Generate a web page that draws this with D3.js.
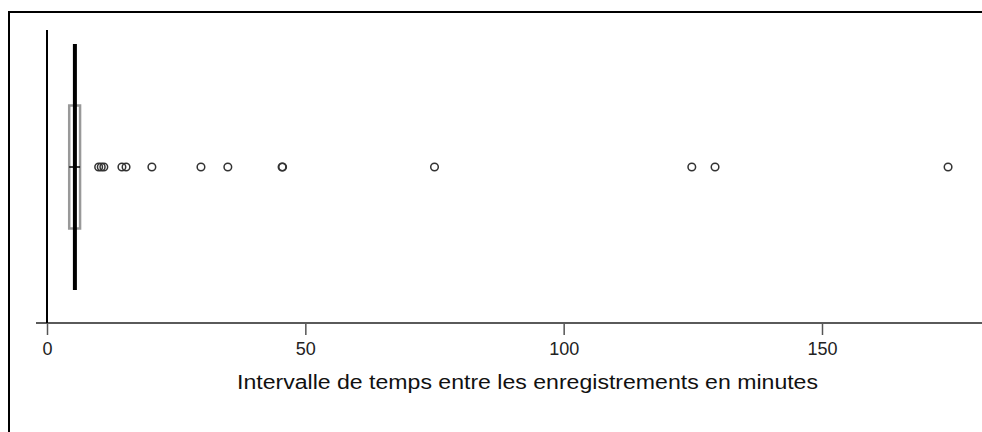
<!DOCTYPE html>
<html><head><meta charset="utf-8">
<script src="https://cdn.jsdelivr.net/npm/d3@7"></script>
<style>body{margin:0;background:#fff;overflow:hidden}svg{display:block}</style>
</head><body>
<script>
const tickValues = [0, 50, 100, 150];
const tickLabels = ["0", "50", "100", "150"];
const boxStats = {q1: 4.3, median: 5.4, q3: 6.4};
const outliers = [10, 10.5, 11, 14.5, 15.3, 20.3, 29.8, 35, 45.5, 45.6, 75, 124.8, 129.3, 174.4];
const axisTitle = "Intervalle de temps entre les enregistrements en minutes";

const W = 982, H = 432;
const svg = d3.select("body").append("svg").attr("width", W).attr("height", H);
svg.append("rect").attr("width", W).attr("height", H).attr("fill", "#fff");

// frame (top and left edges only visible)
svg.append("path").attr("d", `M9,${H + 5}V12H${W + 5}`)
  .attr("fill", "none").attr("stroke", "#000").attr("stroke-width", 2);

const x = d3.scaleLinear().domain([0, 180]).range([47, 977]);
const y = d3.scaleLinear().domain([-1, 1]).range([290, 44]);
const axisY = 323;

// axis
const axis = d3.axisBottom(x).tickValues(tickValues).tickFormat((d, i) => tickLabels[i])
  .tickSize(12).tickSizeOuter(0).tickPadding(7);
const g = svg.append("g").attr("transform", `translate(0,${axisY})`).call(axis);
g.select(".domain").remove();
g.selectAll(".tick line").attr("stroke", "#555").attr("stroke-width", 1.5);
g.selectAll(".tick text").attr("font-family", "Liberation Sans, Arial, sans-serif")
  .attr("font-size", 18).attr("fill", "#222");
svg.append("line").attr("x1", 36).attr("x2", W).attr("y1", axisY).attr("y2", axisY)
  .attr("stroke", "#5a5a5a").attr("stroke-width", 2);

// vertical line at zero
svg.append("line").attr("x1", x(0)).attr("x2", x(0)).attr("y1", 30).attr("y2", axisY)
  .attr("stroke", "#000").attr("stroke-width", 2);

// box
const yc = y(0);
svg.append("rect").attr("x", x(boxStats.q1)).attr("width", x(boxStats.q3) - x(boxStats.q1))
  .attr("y", y(0.5)).attr("height", y(-0.5) - y(0.5))
  .attr("fill", "#fff").attr("stroke", "#999").attr("stroke-width", 2.5);
svg.append("line").attr("x1", x(boxStats.median)).attr("x2", x(boxStats.median))
  .attr("y1", y(1)).attr("y2", y(-1)).attr("stroke", "#000").attr("stroke-width", 4);
svg.append("line").attr("x1", x(boxStats.q1)).attr("x2", x(boxStats.q3))
  .attr("y1", yc).attr("y2", yc).attr("stroke", "#000").attr("stroke-width", 1.5);

// outliers
svg.selectAll("circle.out").data(outliers).enter().append("circle")
  .attr("class", "out").attr("cx", d => x(d)).attr("cy", yc).attr("r", 3.8)
  .attr("fill", "none").attr("stroke", "#333").attr("stroke-width", 1.5);

// title
svg.append("text").attr("x", 237).attr("y", 389)
  .attr("font-family", "Liberation Sans, Arial, sans-serif").attr("font-size", 20)
  .attr("textLength", 581).attr("lengthAdjust", "spacingAndGlyphs")
  .attr("fill", "#111").text(axisTitle);
</script>
</body></html>
